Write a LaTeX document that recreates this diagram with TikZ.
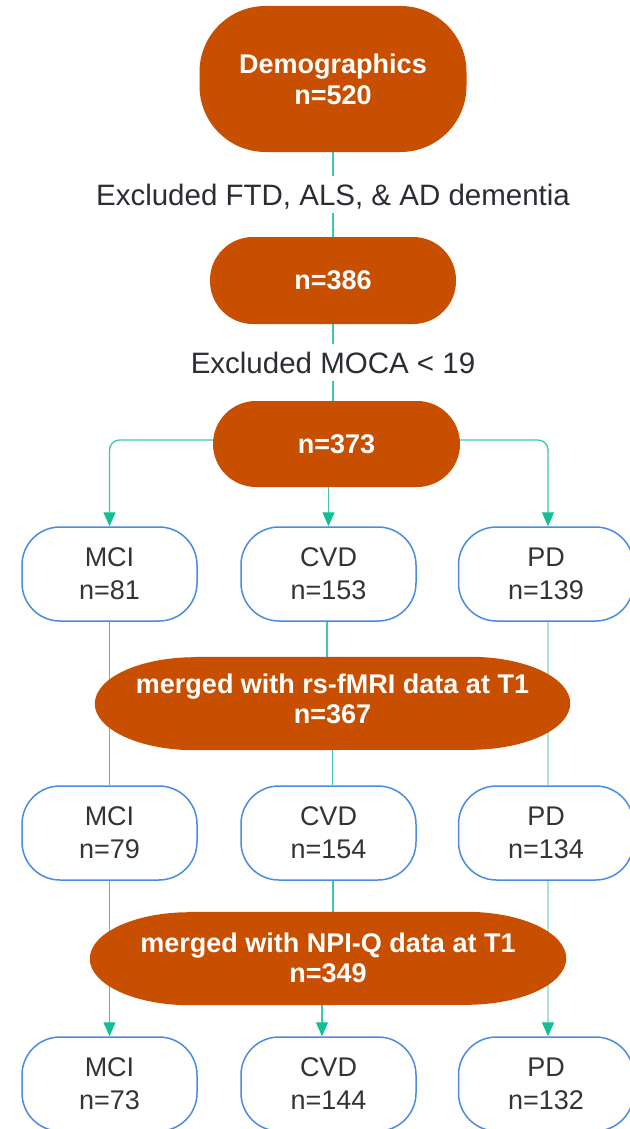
\documentclass[tikz,border=0pt]{standalone}
\usepackage{fontspec}
\setmainfont{Liberation Sans}
\usetikzlibrary{arrows.meta}
\definecolor{rust}{RGB}{200,78,0}
\definecolor{tealline}{RGB}{60,200,175}
\definecolor{tealarrow}{RGB}{20,190,150}
\definecolor{teallight}{RGB}{170,228,220}
\definecolor{boxblue}{RGB}{74,140,225}
\definecolor{darktext}{RGB}{42,45,51}
\definecolor{boxtext}{RGB}{52,52,56}
\pgfdeclarelayer{bg}
\pgfdeclarelayer{lines}
\pgfdeclarelayer{shapes}
\pgfsetlayers{bg,lines,shapes,main}
\tikzset{
  orangenode/.style={fill=rust, draw=none, inner sep=0pt, text=white, align=center,
    font=\fontsize{27pt}{31pt}\selectfont\bfseries},
  whitebox/.style={draw=boxblue, line width=1.5pt, fill=white, rounded corners=38pt,
    minimum width=175pt, minimum height=94pt, inner sep=0pt, align=center, text=boxtext,
    font=\fontsize{27pt}{33pt}\selectfont},
  lbl/.style={fill=white, text=darktext, font=\fontsize{29.5pt}{35pt}\selectfont,
    inner xsep=6pt, inner ysep=8pt, text height=21pt, text depth=0pt},
  shapebox/.style={draw=none, fill=none, inner sep=0pt, minimum width=475pt, minimum height=93pt},
  etext/.style={text=white, align=center, inner sep=0pt,
    font=\fontsize{27pt}{29.5pt}\selectfont\bfseries},
  conn/.style={draw=tealline, line width=1.3pt},
  connlight/.style={draw=teallight, line width=1.3pt},
  arr/.style={conn, -{Triangle[length=14pt,width=12pt,color=tealarrow]}},
  arrlight/.style={connlight, -{Triangle[length=14pt,width=12pt,color=tealarrow]}},
}
\begin{document}
\begin{tikzpicture}[x=1pt,y=1pt]
\begin{pgfonlayer}{bg}
\fill[white] (0,0) rectangle (629,-1129);
\end{pgfonlayer}
\useasboundingbox (0,0) rectangle (629,-1129);

% top chain
\node[orangenode, minimum width=267pt, minimum height=146pt, rounded corners=66pt] (demo) at (333,-79) {Demographics\\n=520};
\node[lbl, anchor=base] (ex1) at (333,-205) {Excluded FTD, ALS, \& AD dementia};
\node[orangenode, minimum width=246pt, minimum height=87pt, rounded corners=43pt] (n386) at (333,-280.5) {n=386};
\node[lbl, anchor=base] (ex2) at (333,-373) {Excluded MOCA < 19};
\node[orangenode, minimum width=247pt, minimum height=86pt, rounded corners=43pt] (n373) at (336.5,-444) {n=373};

% row 1
\node[whitebox] (m1) at (109.5,-574) {MCI\\n=81};
\node[whitebox] (c1) at (328.5,-574) {CVD\\n=153};
\node[whitebox] (p1) at (546,-574) {PD\\n=139};

% merge 1
\node[shapebox, minimum width=475pt] (e1) at (332.5,-703.5) {};
\node[etext] (e1t) at (332.5,-699) {merged with rs-fMRI data at T1\\n=367};

% row 2
\node[whitebox] (m2) at (109.5,-833) {MCI\\n=79};
\node[whitebox] (c2) at (328.5,-833) {CVD\\n=154};
\node[whitebox] (p2) at (546,-833) {PD\\n=134};

% merge 2
\node[shapebox, minimum width=476pt] (e2) at (328,-958.5) {};
\node[etext] (e2t) at (328,-958) {merged with NPI-Q data at T1\\n=349};

% row 3
\node[whitebox] (m3) at (109.5,-1084) {MCI\\n=73};
\node[whitebox] (c3) at (328.5,-1084) {CVD\\n=144};
\node[whitebox] (p3) at (546,-1084) {PD\\n=132};

% ellipse fills
\begin{pgfonlayer}{shapes}
\fill[rust] ([xshift=100pt]e1.north west) -- ([xshift=-100pt]e1.north east)
  arc[start angle=90,end angle=-90,x radius=100pt,y radius=46.5pt]
  -- ([xshift=100pt]e1.south west)
  arc[start angle=270,end angle=90,x radius=100pt,y radius=46.5pt] -- cycle;
\fill[rust] ([xshift=100pt]e2.north west) -- ([xshift=-100pt]e2.north east)
  arc[start angle=90,end angle=-90,x radius=100pt,y radius=46.5pt]
  -- ([xshift=100pt]e2.south west)
  arc[start angle=270,end angle=90,x radius=100pt,y radius=46.5pt] -- cycle;
\end{pgfonlayer}

% connectors
\begin{pgfonlayer}{lines}
\draw[conn] (demo.south) -- (demo.south |- n386.north);
\draw[conn] (n386.south) -- (n386.south |- n373.north);
\draw[arr, rounded corners=10pt] ([yshift=4pt]n373.west) -| (m1.north);
\draw[arr, rounded corners=10pt] ([yshift=4pt]n373.east) -| ([xshift=2pt]p1.north);
\draw[arr] (c1.north |- n373.south) -- (c1.north);
% row 1 -> row 2
\draw[conn] (m1.south) -- (m2.north);
\draw[conn] ([xshift=-1.5pt]c1.south) -- ([xshift=-1.5pt]c1.south |- e1.north);
\draw[conn] (e1.south) -- (e1.south |- c2.north);
\draw[connlight] ([xshift=2pt]p1.south) -- ([xshift=2pt]p2.north);
% row 2 -> row 3
\draw[arr] (m2.south) -- (m3.north);
\draw[conn] ([xshift=4.5pt]c2.south) -- ([xshift=4.5pt]c2.south |- e2.north);
\draw[arr] ([xshift=-6pt]e2.south) -- ([xshift=-6pt]e2.south |- c3.north);
\draw[arrlight] ([xshift=2pt]p2.south) -- ([xshift=2pt]p3.north);
\end{pgfonlayer}
\end{tikzpicture}
\end{document}
